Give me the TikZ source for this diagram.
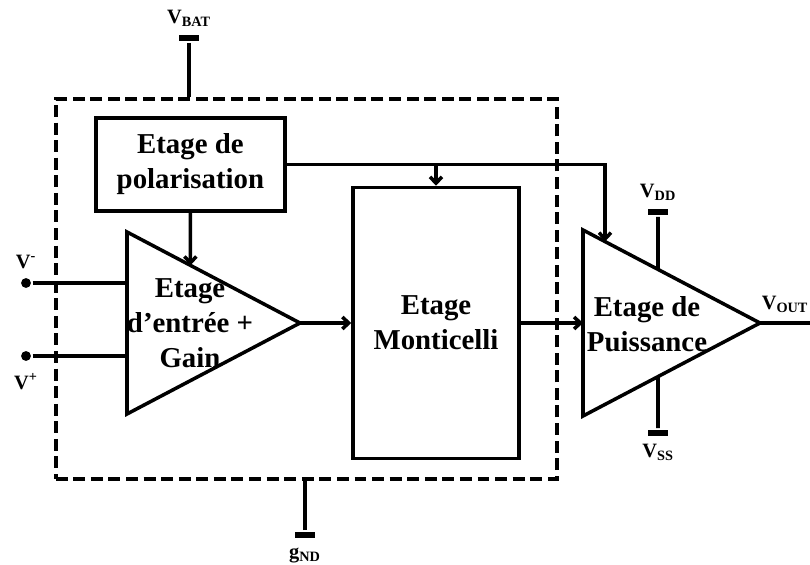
\documentclass[tikz,border=0pt]{standalone}
\usepackage{fontspec}
\setmainfont{Liberation Serif}
\usetikzlibrary{arrows.meta,positioning,calc}

\begin{document}
\begin{tikzpicture}[
  >={Straight Barb[length=4.5pt,width=8.5pt]},
  line width=2.5pt,
  bloc/.style={draw, align=center, inner sep=0pt,
               font=\bfseries\fontsize{20.5}{24.8}\selectfont},
  titre/.style={align=center, inner sep=0pt,
                font=\bfseries\fontsize{20.5}{24.8}\selectfont},
  lbl/.style={inner sep=1pt, font=\bfseries\fontsize{14.5}{16}\selectfont},
  barre/.style={fill, minimum width=0.52cm, minimum height=0.15cm, inner sep=0pt},
  borne/.style={circle, fill, minimum size=7pt, inner sep=0pt}
]
\useasboundingbox (0,0) rectangle (20.25,14.1);

% cadre de la puce
\node[draw, dash pattern=on 8.5pt off 4pt, anchor=north west, inner sep=0pt,
      minimum width=12.525cm, minimum height=9.5cm] (cadre) at (1.35,11.675) {};

% blocs
\node[bloc, minimum width=4.725cm, minimum height=2.325cm] (polar) at (4.76,9.99)
      {Etage de\\polarisation};
\node[bloc, minimum width=4.15cm, minimum height=6.775cm] (monti) at (10.9,6.025)
      {Etage\\Monticelli};

% etage d'entree
\coordinate (ent-h) at (3.175,8.3);
\coordinate (ent-b) at (3.175,3.75);
\coordinate (ent-s) at (7.5,6.025);
\draw (ent-h) -- coordinate[pos=0.3665] (ent-pol) (ent-s) -- (ent-b) -- cycle;
\node[titre] (ent-txt) at (4.75,6.025) {Etage\\d'entrée +\\Gain};

% etage de puissance
\coordinate (pui-h) at (14.575,8.35);
\coordinate (pui-b) at (14.575,3.7);
\coordinate (pui-s) at (19.0,6.025);
\draw (pui-h) -- coordinate[pos=0.1243] (pui-pol) coordinate[pos=0.4237] (pui-dd)
      (pui-s) -- coordinate[pos=0.5763] (pui-ss) (pui-b) -- cycle;
\node[titre] (pui-txt) at (16.175,6.0) {Etage de\\Puissance};

% alimentations
\node[barre] (bat) at (4.725,13.15) {};
\node[lbl, above=0.08cm of bat] (bat-txt) {V\textsubscript{BAT}};
\draw (bat) -- (bat |- cadre.north);
\node[barre] (gnd) at (7.625,0.725) {};
\node[lbl, below=0.12cm of gnd] (gnd-txt) {g\textsubscript{ND}};
\draw (gnd) -- (gnd |- cadre.south);
\node[barre] (vdd) at (16.45,8.8) {};
\node[lbl, above=0.08cm of vdd] (vdd-txt) {V\textsubscript{DD}};
\draw (vdd) -- (pui-dd);
\node[barre] (vss) at (16.45,3.275) {};
\node[lbl, below=0.08cm of vss] (vss-txt) {V\textsubscript{SS}};
\draw (vss) -- (pui-ss);

% entrees
\node[borne] (vmoins) at (0.65,7.025) {};
\node[lbl, above=0.12cm of vmoins] (vmoins-txt) {V\textsuperscript{-}};
\node[borne] (vplus) at (0.65,5.2) {};
\node[lbl, below=0.2cm of vplus] (vplus-txt) {V\textsuperscript{+}};
\draw (vmoins) -- (vmoins -| ent-h);
\draw (vplus) -- (vplus -| ent-h);

% polarisation
\draw[->] (polar.south) -- (ent-pol);
\draw[->] (polar.east) -| (pui-pol);
\draw[->] (polar.east -| monti.north) -- (monti.north);

% chaine de signal
\draw[->] (ent-s) -- (monti.west);
\draw[->] (monti.east) -- (monti.east -| pui-h);
\coordinate (sortie) at (20.25,6.025);
\draw (pui-s) -- (sortie) node[lbl, midway, above=0.18cm] (vout-txt) {V\textsubscript{OUT}};
\end{tikzpicture}
\end{document}
